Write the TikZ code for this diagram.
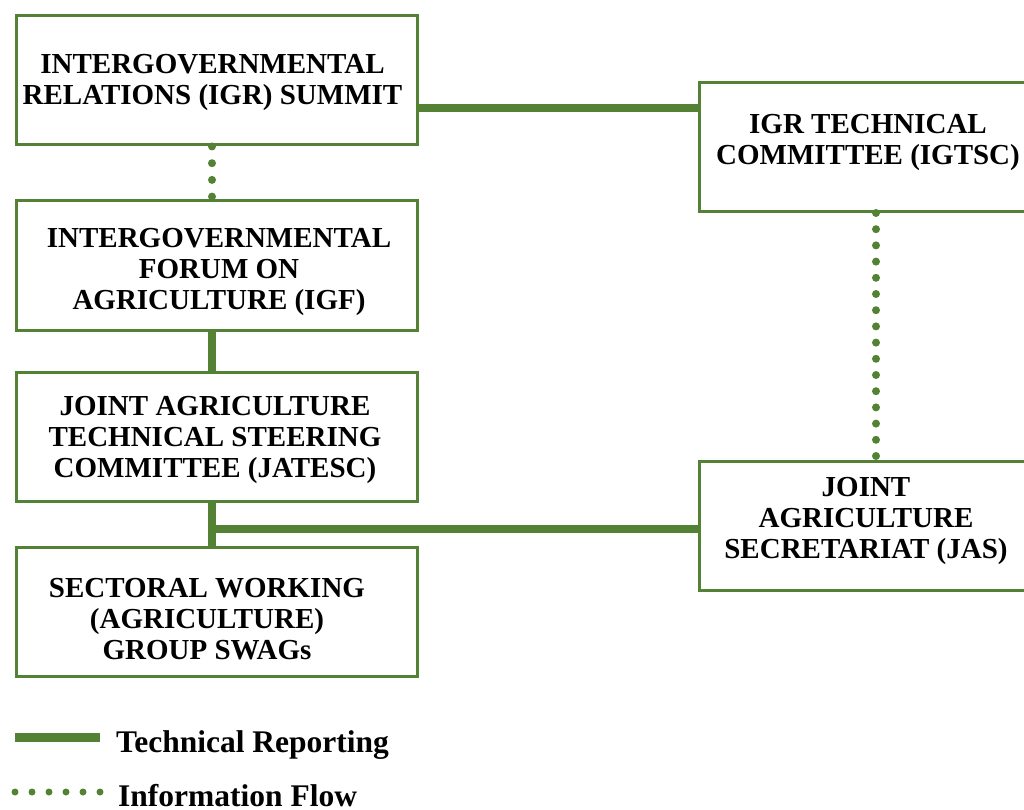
\documentclass[tikz,border=0pt]{standalone}
\usepackage{fontspec}
\setmainfont{Liberation Serif}
\usetikzlibrary{calc}
\definecolor{boxgreen}{RGB}{84,130,53}
\begin{document}
\begin{tikzpicture}[x=1pt,y=-1pt,
  box/.style={draw=boxgreen,line width=3pt,fill=white,inner sep=0pt,minimum width=401pt,minimum height=129pt},
  rbox/.style={box,minimum width=336pt},
  boxtext/.style={inner sep=0pt,anchor=base,align=center,font=\bfseries\fontsize{29}{31}\selectfont},
  legtext/.style={inner sep=0pt,anchor=base west,font=\bfseries\fontsize{31.5}{33}\selectfont},
  tech/.style={draw=boxgreen,line width=7.5pt},
  info/.style={draw=boxgreen,line width=8pt,line cap=round,dash pattern=on 0pt off #1}]
\useasboundingbox (0,0) rectangle (1024,810);
% boxes
\node[box] (b1) at (216.5,80.5) {};
\node[box] (b2) at (216.5,265.5) {};
\node[box] (b3) at (216.5,437) {};
\node[box] (b4) at (216.5,611.5) {};
\node[rbox] (b5) at (867,147) {};
\node[rbox] (b6) at (867,525.5) {};
% texts (anchored at the baseline of the last line)
\node[boxtext] (t1) at (212.5,105) {INTERGOVERNMENTAL\\RELATIONS (IGR) SUMMIT};
\node[boxtext] (t2) at (219,309) {INTERGOVERNMENTAL\\FORUM ON\\AGRICULTURE (IGF)};
\node[boxtext] (t3) at (215,477) {JOINT AGRICULTURE\\TECHNICAL STEERING\\COMMITTEE (JATESC)};
\node[boxtext] (t4) at (207,659) {SECTORAL WORKING\\(AGRICULTURE)\\GROUP SWAGs};
\node[boxtext] (t5) at (868,165) {IGR TECHNICAL\\COMMITTEE (IGTSC)};
\node[boxtext] (t6) at (866,558) {JOINT\\AGRICULTURE\\SECRETARIAT (JAS)};
% connectors
\draw[tech] ([yshift=-27.5pt]b1.east) -- ([yshift=-27.5pt]b1.east -| b5.west);
\draw[info=16.7pt] ([xshift=-4.5pt]b1.south) -- ([xshift=-4.5pt]b2.north);
\draw[tech] ([xshift=-4.5pt]b2.south) -- ([xshift=-4.5pt]b3.north);
\draw[tech] ([xshift=-4.5pt]b3.south) -- ([xshift=-4.5pt]b4.north);
\coordinate (jn) at ([xshift=-4.5pt]b3.south);
\coordinate (jw) at ([yshift=-3.5pt]b6.west);
\draw[tech] (jw) -- (jw -| jn);
\draw[info=16.2pt] ([xshift=9pt]b5.south) -- ([xshift=9pt]b6.north);
% legend
\coordinate (la) at (15,737);
\coordinate (lb) at (100,737);
\draw[tech,line width=9pt] (la) -- (lb);
\node[legtext] (lt1) at (116,752) {Technical Reporting};
\coordinate (lc) at (15,792);
\coordinate (ld) at (102,792);
\draw[info=17pt,line width=7pt] (lc) -- (ld);
\node[legtext] (lt2) at (118,806) {Information Flow};
\end{tikzpicture}
\end{document}
